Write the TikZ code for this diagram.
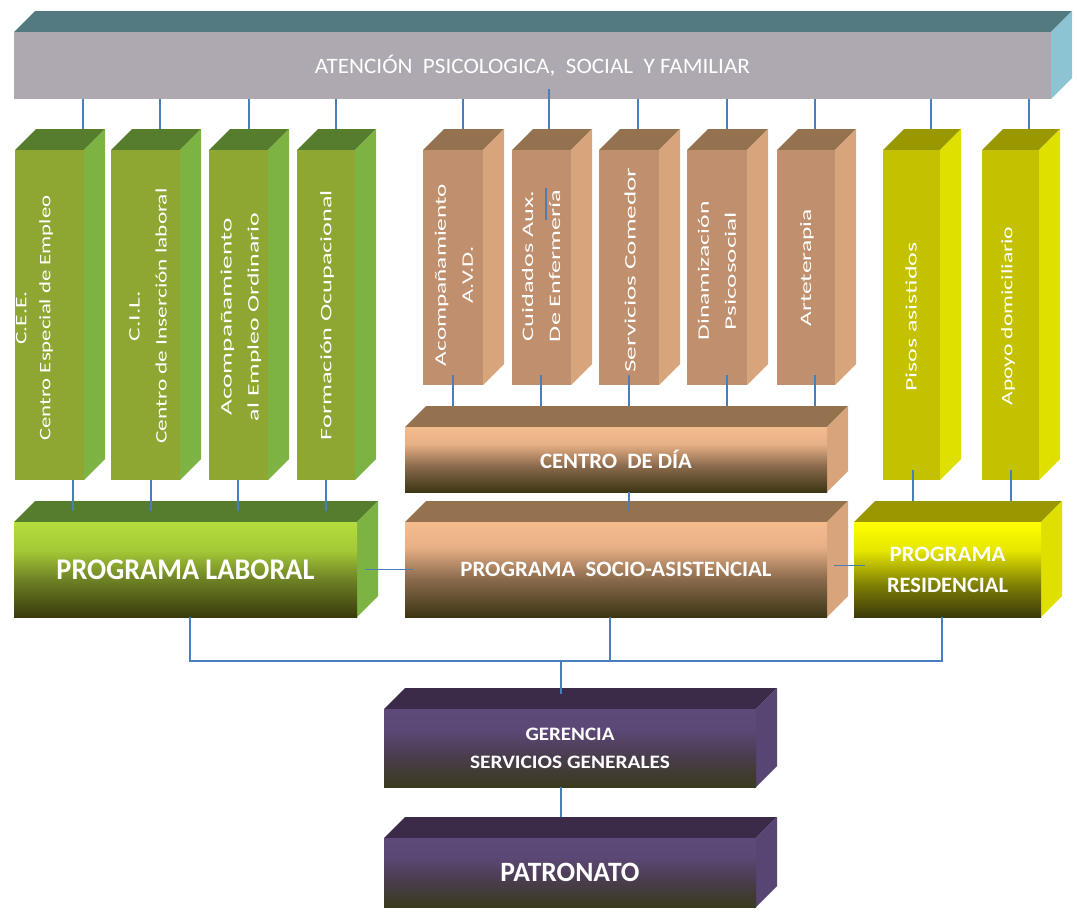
\documentclass[tikz,border=0pt]{standalone}
\usepackage{fontspec}
\setmainfont{Carlito}
\usepackage{graphicx}
\usetikzlibrary{calc}
\definecolor{conncol}{HTML}{4A7EBB}
\definecolor{bartop}{HTML}{547A81}
\definecolor{barfront}{HTML}{AEA9B0}
\definecolor{barright}{HTML}{8CC4D4}
\definecolor{gtop}{HTML}{567D2E}
\definecolor{gfront}{HTML}{8EA733}
\definecolor{gright}{HTML}{7DB343}
\definecolor{btop}{HTML}{94714F}
\definecolor{bfront}{HTML}{C08F6D}
\definecolor{bright}{HTML}{D8A47C}
\definecolor{ytop}{HTML}{9A9800}
\definecolor{yfront}{HTML}{C4C100}
\definecolor{yright}{HTML}{E0E000}
\definecolor{ptop}{HTML}{3C2B48}
\definecolor{pright}{HTML}{574573}
% shading colours
\definecolor{gs0}{HTML}{3A3A0C}\definecolor{gs1}{HTML}{6E8325}\definecolor{gs2}{HTML}{A4C837}\definecolor{gs3}{HTML}{B5DD3C}
\definecolor{bs0}{HTML}{3C3614}\definecolor{bs1}{HTML}{8A6A4C}\definecolor{bs2}{HTML}{E8B086}\definecolor{bs3}{HTML}{F4BC8D}
\definecolor{ys0}{HTML}{3A3A0A}\definecolor{ys1}{HTML}{7F7F05}\definecolor{ys2}{HTML}{E6E600}\definecolor{ys3}{HTML}{FFFF00}
\definecolor{ps0}{HTML}{3A3A1D}\definecolor{ps1}{HTML}{4A3D4F}\definecolor{ps2}{HTML}{5C4877}\definecolor{ps3}{HTML}{5E4A7A}
\pgfdeclareverticalshading{gshade}{100bp}{color(0bp)=(gs0); color(25bp)=(gs0); color(45bp)=(gs1); color(60bp)=(gs2); color(75bp)=(gs3); color(100bp)=(gs3)}
\pgfdeclareverticalshading{bshade}{100bp}{color(0bp)=(bs0); color(25bp)=(bs0); color(45bp)=(bs1); color(62bp)=(bs2); color(75bp)=(bs3); color(100bp)=(bs3)}
\pgfdeclareverticalshading{yshade}{100bp}{color(0bp)=(ys0); color(25bp)=(ys0); color(42bp)=(ys1); color(60bp)=(ys2); color(75bp)=(ys3); color(100bp)=(ys3)}
\pgfdeclareverticalshading{pshade}{100bp}{color(0bp)=(ps0); color(25bp)=(ps0); color(45bp)=(ps1); color(62bp)=(ps2); color(75bp)=(ps3); color(100bp)=(ps3)}
\newcommand\dep{21}
\newcommand\rz[2]{\resizebox{#1pt}{\height}{#2}}
% name, x1, y1, x2, y2, top colour, right colour, front options, text
\newcommand\cubebox[9]{%
  \fill[#6] (#2,#3) -- (#2+\dep,#3-\dep) -- (#4+\dep,#3-\dep) -- (#4,#3) -- cycle;
  \fill[#7] (#4,#3) -- (#4+\dep,#3-\dep) -- (#4+\dep,#5-\dep) -- (#4,#5) -- cycle;
  \node[face, minimum width={(#4)-(#2)}, minimum height={(#5)-(#3)}, #8] (#1) at (#2,#3) {#9};
  \coordinate (#1-b) at ([yshift=\dep pt]#1.north);
}
\tikzset{
  conn/.style={draw=conncol, line width=1.7pt},
  face/.style={inner sep=0pt, outer sep=0pt, anchor=north west, text=white, align=center},
  vlab/.style={rotate=90, text=white, align=center, inner sep=0pt, font=\fontsize{16}{27}\selectfont},
  gcol/.style={fill=gfront}, bcol/.style={fill=bfront}, ycol/.style={fill=yfront},
  gprog/.style={shade, shading=gshade}, bprog/.style={shade, shading=bshade},
  yprog/.style={shade, shading=yshade}, pprog/.style={shade, shading=pshade},
}
\begin{document}
\begin{tikzpicture}[x=1pt,y=-1pt]
\useasboundingbox (0,0) rectangle (1077,911);
% top bar
\cubebox{bar}{14}{32}{1051}{99}{bartop}{barright}{fill=barfront, font=\fontsize{22}{26}\selectfont}{\rz{435}{ATENCIÓN\ \ PSICOLOGICA,\ \ SOCIAL\ \ Y FAMILIAR}}
% green columns
\cubebox{g1}{15}{150}{84}{480}{gtop}{gright}{gcol}{}
\cubebox{g2}{111}{150}{180}{480}{gtop}{gright}{gcol}{}
\cubebox{g3}{209}{150}{268}{480}{gtop}{gright}{gcol}{}
\cubebox{g4}{297}{150}{355}{480}{gtop}{gright}{gcol}{}
% brown columns
\cubebox{b1}{423}{150}{483}{385}{btop}{bright}{bcol}{}
\cubebox{b2}{512}{150}{571}{385}{btop}{bright}{bcol}{}
\cubebox{b3}{599}{150}{659}{385}{btop}{bright}{bcol}{}
\cubebox{b4}{687}{150}{747}{385}{btop}{bright}{bcol}{}
\cubebox{b5}{777}{150}{835}{385}{btop}{bright}{bcol}{}
% yellow columns
\cubebox{y1}{883}{150}{940}{480}{ytop}{yright}{ycol}{}
\cubebox{y2}{982}{150}{1039}{480}{ytop}{yright}{ycol}{}
% horizontal boxes
\cubebox{centro}{405}{427}{827}{492}{btop}{bright}{bprog, font=\bfseries\fontsize{22}{26}\selectfont}{\rz{152}{CENTRO\ \ DE DÍA}}
\cubebox{laboral}{14}{522}{357}{617}{gtop}{gright}{gprog, font=\bfseries\fontsize{30}{34}\selectfont}{\rz{258}{PROGRAMA LABORAL}}
\cubebox{socio}{405}{522}{827}{617}{btop}{bright}{bprog, font=\bfseries\fontsize{22}{26}\selectfont}{\rz{311}{PROGRAMA\ \ SOCIO-ASISTENCIAL}}
\cubebox{resid}{854}{522}{1041}{617}{ytop}{yright}{yprog, font=\bfseries\fontsize{22}{31}\selectfont}{\rz{116}{PROGRAMA}\\\rz{121}{RESIDENCIAL}}
\cubebox{geren}{384}{709}{756}{787}{ptop}{pright}{pprog, font=\bfseries\fontsize{19}{28}\selectfont}{\rz{89}{GERENCIA}\\\rz{200}{SERVICIOS GENERALES}}
\cubebox{patro}{384}{838}{756}{907}{ptop}{pright}{pprog, font=\bfseries\fontsize{28}{32}\selectfont}{\rz{139}{PATRONATO}}
% vertical labels
\node[vlab, font=\fontsize{16}{24}\selectfont] (tg1) at (34.5,318) {\rz{53}{C.E.E.}\\\rz{245}{Centro Especial de Empleo}};
\node[vlab] (tg2) at (148,316) {\rz{50}{C.I.L.}\\\rz{255}{Centro de Inserción laboral}};
\node[vlab] (tg3) at (241,317) {\rz{197}{Acompañamiento}\\\rz{208}{al Empleo Ordinario}};
\node[vlab] (tg4) at (327,315) {\rz{250}{Formación Ocupacional}};
\node[vlab] (tb1) at (454,275) {\rz{182}{Acompañamiento}\\\rz{57}{A.V.D.}};
\node[vlab] (tb2) at (541,266) {\rz{151}{Cuidados Aux.}\\\rz{152}{De Enfermería}};
\node[vlab] (tb3) at (630,270) {\rz{205}{Servicios Comedor}};
\node[vlab] (tb4) at (717,271) {\rz{139}{Dinamización}\\\rz{118}{Psicosocial}};
\node[vlab] (tb5) at (807,268) {\rz{117}{Arteterapia}};
\node[vlab] (ty1) at (911,317) {\rz{149}{Pisos asistidos}};
\node[vlab] (ty2) at (1008,316) {\rz{179}{Apoyo domiciliario}};
% connectors: top bar to columns
\draw[conn] (bar.south -| 83,0) -- (g1-b -| 83,0);
\draw[conn] (bar.south -| 160,0) -- (g2-b -| 160,0);
\draw[conn] (bar.south -| 249,0) -- (g3-b -| 249,0);
\draw[conn] (bar.south -| 336,0) -- (g4-b -| 336,0);
\draw[conn] (bar.south -| 463,0) -- (b1-b -| 463,0);
\draw[conn] ($(bar.south -| 549,0)+(0,-10)$) -- (b2-b -| 549,0);
\draw[conn] ($(b2.north -| 546,0)+(0,38)$) -- ($(b2.north -| 546,0)+(0,70)$);
\draw[conn] (bar.south -| 638,0) -- (b3-b -| 638,0);
\draw[conn] (bar.south -| 727,0) -- (b4-b -| 727,0);
\draw[conn] (bar.south -| 815,0) -- (b5-b -| 815,0);
\draw[conn] (bar.south -| 931,0) -- (y1-b -| 931,0);
\draw[conn] (bar.south -| 1029,0) -- (y2-b -| 1029,0);
% columns to programmes
\draw[conn] (g1.south -| 73,0) -- ($(laboral-b -| 73,0)+(0,10)$);
\draw[conn] (g2.south -| 151,0) -- ($(laboral-b -| 151,0)+(0,10)$);
\draw[conn] (g3.south -| 238,0) -- ($(laboral-b -| 238,0)+(0,10)$);
\draw[conn] (g4.south -| 326,0) -- ($(laboral-b -| 326,0)+(0,10)$);
\draw[conn] ($(b1.south -| 453,0)+(0,-10)$) -- (centro-b -| 453,0);
\draw[conn] ($(b2.south -| 541,0)+(0,-10)$) -- (centro-b -| 541,0);
\draw[conn] ($(b3.south -| 629,0)+(0,-10)$) -- (centro-b -| 629,0);
\draw[conn] ($(b4.south -| 727,0)+(0,-10)$) -- (centro-b -| 727,0);
\draw[conn] ($(b5.south -| 815,0)+(0,-10)$) -- (centro-b -| 815,0);
\draw[conn] ($(y1.south -| 913,0)+(0,-10)$) -- (resid-b -| 913,0);
\draw[conn] ($(y2.south -| 1011,0)+(0,-10)$) -- (resid-b -| 1011,0);
\draw[conn] (centro.south -| 629,0) -- ($(socio-b -| 629,0)+(0,10)$);
% programmes side links
\draw[conn] ($(laboral.east)+(8,0)$) -- ($(socio.west)+(8,0)$);
\draw[conn] ($(socio.east)+(7,-4)$) -- ($(resid.west)+(11,-4)$);
% bus to management
\coordinate (bus) at (561,661);
\draw[conn] (laboral.south -| 190,0) |- (bus) -| (resid.south -| 942,0);
\draw[conn] (socio.south -| 610,0) -- (bus -| 610,0);
\draw[conn] (bus) -- ($(geren-b -| bus)+(0,6)$);
\draw[conn] (geren.south -| 561,0) -- (patro-b -| 561,0);
\end{tikzpicture}
\end{document}
